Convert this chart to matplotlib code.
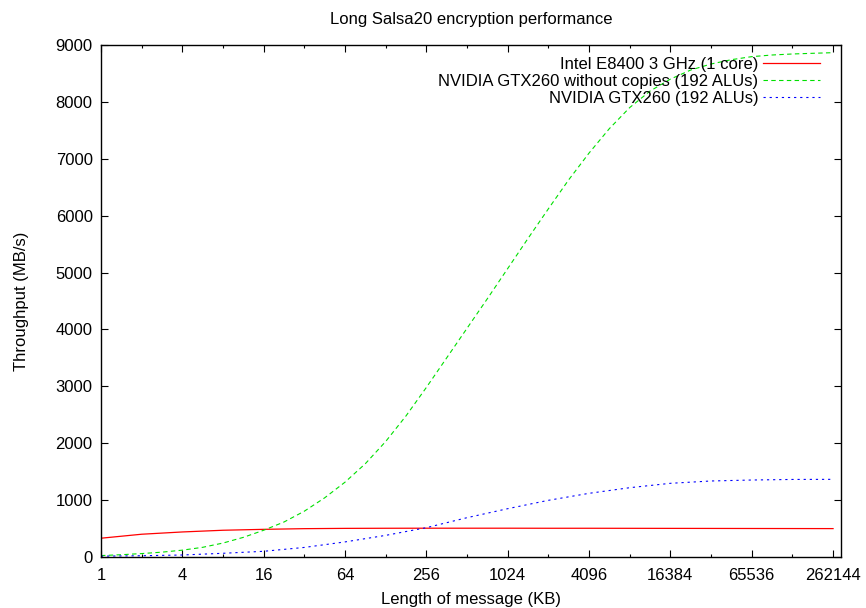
import matplotlib
matplotlib.use("Agg")
import matplotlib.pyplot as plt
from matplotlib.ticker import NullFormatter
import numpy as np

plt.rcParams['font.family'] = ['Liberation Sans', 'DejaVu Sans']

# message length in KB (powers of two)
sizes = [1, 2, 4, 8, 16, 32, 64, 128, 256, 512, 1024, 2048, 4096,
         8192, 16384, 32768, 65536, 131072, 262144]

# the GPU without copies run was sampled every half power of two
half_exp = [0, 0.5, 1, 1.5, 2, 2.5, 3, 3.5, 4, 4.5, 5, 5.5, 6, 6.5,
            7, 7.5, 8, 8.5, 9, 9.5, 10, 10.5, 11, 11.5, 12, 12.5,
            13, 13.5, 14, 14.5, 15, 15.5, 16, 16.5, 17, 17.5, 18]

# throughput in MB/s
cpu = [330, 400, 440, 470, 486, 498, 503, 505, 506, 506, 506, 505, 505,
       504, 503, 502, 501, 500, 499]
gpu_nocopy = [25, 40, 60, 85, 120, 170, 245, 345, 470, 615, 805, 1040,
              1315, 1640, 2030, 2480, 2980, 3500, 4020, 4540, 5070, 5600,
              6120, 6630, 7100, 7530, 7900, 8190, 8400, 8560, 8666, 8742,
              8795, 8824, 8842, 8854, 8865]
gpu = [15, 22, 35, 65, 100, 168, 265, 380, 515, 691, 849, 996, 1119,
       1218, 1295, 1336, 1353, 1363, 1365]

labels = ["Intel E8400 3 GHz (1 core)",
          "NVIDIA GTX260 without copies (192 ALUs)",
          "NVIDIA GTX260 (192 ALUs)"]

fig = plt.figure(figsize=(8.66, 6.08), dpi=100)
ax = fig.add_axes([0.1166, 0.0839, 0.8545, 0.8421])

ax.plot(sizes, cpu, color='#ff0000', lw=0.9, label=labels[0])
ax.plot(np.power(2.0, half_exp), gpu_nocopy, color='#00e000', lw=0.8,
        dashes=(4, 3), label=labels[1])
ax.plot(sizes, gpu, color='#0000ff', lw=0.8, dashes=(2, 3.5), label=labels[2])

ax.set_xscale('log', base=2)
ax.set_xlim(1, 300000)
ax.set_ylim(0, 9000)

major = [s for i, s in enumerate(sizes) if i % 2 == 0]
minor = [s for i, s in enumerate(sizes) if i % 2 == 1]
ax.set_xticks(major)
ax.set_xticklabels([str(s) for s in major])
ax.set_xticks(minor, minor=True)
ax.xaxis.set_minor_formatter(NullFormatter())
ax.set_yticks(range(0, 9001, 1000))

ax.tick_params(which='both', direction='in', top=True, right=True,
               labelsize=12, width=0.8)
ax.tick_params(axis='x', pad=8)
ax.tick_params(axis='y', pad=6)
ax.tick_params(which='major', length=5)
ax.tick_params(which='minor', length=2.5)
for s in ax.spines.values():
    s.set_linewidth(1.0)

ax.set_title("Long Salsa20 encryption performance", fontsize=12, pad=15)
ax.set_xlabel("Length of message (KB)", fontsize=12, labelpad=6.5)
ax.set_ylabel("Throughput (MB/s)", fontsize=12, labelpad=19)

ax.legend(loc='upper right', frameon=False, markerfirst=False, fontsize=12,
          handlelength=3.4, handletextpad=0.3, labelspacing=0.11,
          borderaxespad=0, borderpad=0, bbox_to_anchor=(0.9716, 0.976))

fig.savefig("out.png", dpi=100)
